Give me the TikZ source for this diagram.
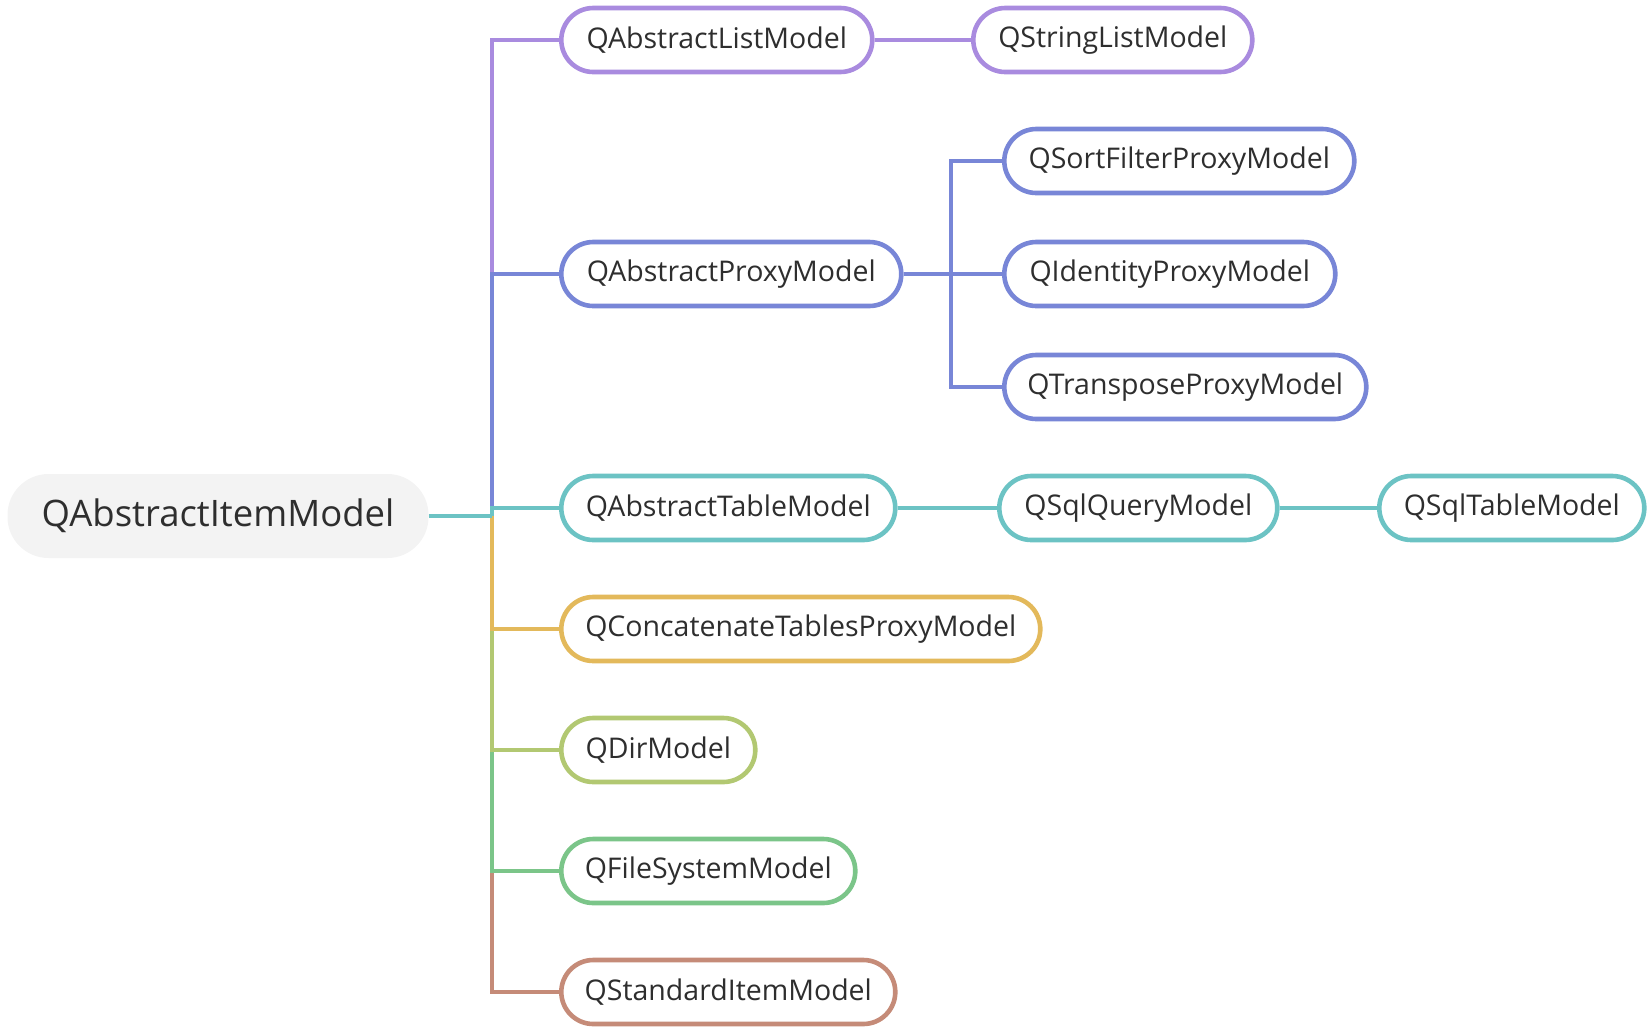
\documentclass[tikz,border=0pt]{standalone}
\usepackage{fontspec}
\setmainfont{Open Sans}
\definecolor{cpurple}{HTML}{A98BDF}
\definecolor{cblue}{HTML}{7886D7}
\definecolor{cteal}{HTML}{6CC3C4}
\definecolor{cyellow}{HTML}{E3B95B}
\definecolor{clgreen}{HTML}{B2C872}
\definecolor{cgreen}{HTML}{7BC589}
\definecolor{cbrown}{HTML}{C58B78}
\definecolor{rootgray}{HTML}{F3F3F3}
\definecolor{txt}{HTML}{2E2E2E}
\tikzset{
  box/.style={draw, line width=4.6pt, fill=white, rounded corners=32pt,
    minimum height=64pt, inner xsep=0pt, inner ysep=0pt, text=txt,
    font=\fontsize{28.5}{34}\selectfont, anchor=west},
  rootbox/.style={fill=rootgray, rounded corners=41pt, minimum height=84pt,
    minimum width=421pt, inner sep=0pt, text=txt, font=\fontsize{36.5}{42}\selectfont},
  edge/.style={line width=4.6pt},
}
\begin{document}
\begin{tikzpicture}[x=1pt,y=-1pt]
\useasboundingbox (0,0) rectangle (1652,1034);
% root
\node[rootbox] (root) at (218,516) {QAbstractItemModel};
\coordinate (J) at (492,516);
\coordinate (PJ) at (951,274);
% level 1
\node[box, draw=cpurple, minimum width=311pt] (alist) at (559,40) {QAbstractListModel};
\node[box, draw=cblue, minimum width=340pt] (aproxy) at (559,274) {QAbstractProxyModel};
\node[box, draw=cteal, minimum width=334pt] (atable) at (559,508) {QAbstractTableModel};
\node[box, draw=cyellow, minimum width=479pt] (concat) at (559,629) {QConcatenateTablesProxyModel};
\node[box, draw=clgreen, minimum width=194pt] (dir) at (559,750) {QDirModel};
\node[box, draw=cgreen, minimum width=294pt] (fs) at (559,871) {QFileSystemModel};
\node[box, draw=cbrown, minimum width=334pt] (std) at (559,992) {QStandardItemModel};
% level 2
\node[box, draw=cpurple, minimum width=279pt] (slist) at (971,40) {QStringListModel};
\node[box, draw=cblue, minimum width=350pt] (sort) at (1002,161) {QSortFilterProxyModel};
\node[box, draw=cblue, minimum width=331pt] (ident) at (1002,274) {QIdentityProxyModel};
\node[box, draw=cblue, minimum width=362pt] (trans) at (1002,387) {QTransposeProxyModel};
\node[box, draw=cteal, minimum width=278pt] (sqlq) at (997,508) {QSqlQueryModel};
\node[box, draw=cteal, minimum width=265pt] (sqlt) at (1377,508) {QSqlTableModel};
% edges
\draw[edge, cpurple] (J) |- (alist.west);
\draw[edge, cblue] (J) |- (aproxy.west);
\draw[edge, cbrown] (J) |- (std.west);
\draw[edge, cgreen] (J) |- (fs.west);
\draw[edge, clgreen] (J) |- (dir.west);
\draw[edge, cyellow] (J) |- (concat.west);
\draw[edge, cteal] (root.east) -- (J);
\draw[edge, cteal] (J) |- (atable.west);
\draw[edge, cpurple] (alist.east) -- (slist.west);
\draw[edge, cblue] (aproxy.east) -- (PJ);
\draw[edge, cblue] (PJ) |- (sort.west);
\draw[edge, cblue] (PJ) |- (trans.west);
\draw[edge, cblue] (PJ) -- (ident.west);
\draw[edge, cteal] (atable.east) -- (sqlq.west);
\draw[edge, cteal] (sqlq.east) -- (sqlt.west);
\end{tikzpicture}
\end{document}
